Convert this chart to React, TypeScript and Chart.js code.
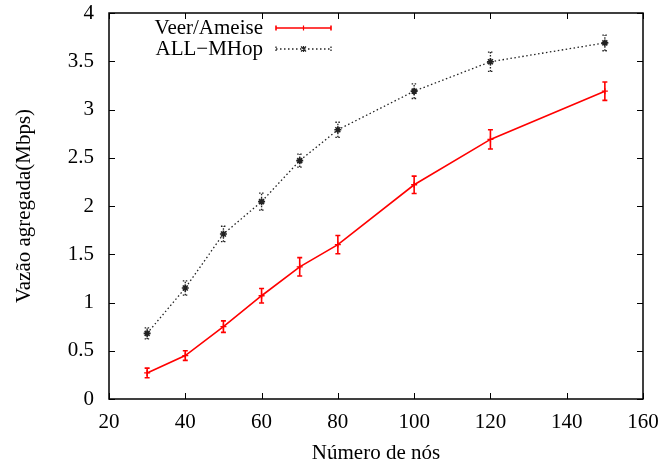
import React, { useEffect, useRef } from "react";
import { Chart, registerables } from "chart.js";

Chart.register(...registerables);

const nodes = [30, 40, 50, 60, 70, 80, 100, 120, 150];
const veerValues = [0.27, 0.45, 0.75, 1.07, 1.37, 1.6, 2.22, 2.69, 3.19];
const veerErrors = [0.05, 0.05, 0.06, 0.075, 0.095, 0.095, 0.09, 0.1, 0.095];
const mhopValues = [0.68, 1.15, 1.71, 2.045, 2.47, 2.79, 3.19, 3.495, 3.69];
const mhopErrors = [0.057, 0.074, 0.08, 0.088, 0.067, 0.078, 0.076, 0.1, 0.081];
const xTicks = [20, 40, 60, 80, 100, 120, 140, 160];
const yTicks = [0, 0.5, 1, 1.5, 2, 2.5, 3, 3.5, 4];
const seriesLabels = ["Veer/Ameise", "ALL\u2212MHop"];
const xTitle = "Número de nós";
const yTitle = "Vazão agregada(Mbps)";

const FONT = "'Liberation Serif', 'Times New Roman', serif";
const RED = "#ff0000";
const DARK = "#222222";
const DOT = [1.5, 2.5];

const framePlugin = {
  id: "gnuplotFrame",
  beforeDatasetsDraw(chart: any) {
    const ctx = chart.ctx;
    chart.data.datasets.forEach((ds: any, i: number) => {
      const meta = chart.getDatasetMeta(i);
      const ys = chart.scales.y;
      ctx.save();
      ctx.strokeStyle = ds.borderColor;
      ctx.lineWidth = ds.errWidth;
      ctx.setLineDash(ds.errDash || []);
      meta.data.forEach((pt: any, j: number) => {
        const v = ds.data[j].y;
        const e = ds.errors[j];
        const x = pt.x;
        const y1 = ys.getPixelForValue(v - e);
        const y2 = ys.getPixelForValue(v + e);
        ctx.beginPath();
        ctx.moveTo(x, y1);
        ctx.lineTo(x, y2);
        ctx.moveTo(x - 2.5, y1);
        ctx.lineTo(x + 2.5, y1);
        ctx.moveTo(x - 2.5, y2);
        ctx.lineTo(x + 2.5, y2);
        ctx.stroke();
      });
      ctx.restore();
    });
  },
  afterDraw(chart: any) {
    const ctx = chart.ctx;
    const { left, right, top, bottom } = chart.chartArea;
    const xs = chart.scales.x;
    const ys = chart.scales.y;
    ctx.save();
    ctx.strokeStyle = "#000";
    ctx.lineWidth = 1.5;
    ctx.setLineDash([]);
    ctx.strokeRect(left, top, right - left, bottom - top);
    ctx.lineWidth = 1;
    ctx.beginPath();
    xTicks.forEach((t) => {
      const x = Math.round(xs.getPixelForValue(t)) + 0.5;
      ctx.moveTo(x, bottom);
      ctx.lineTo(x, bottom - 6);
      ctx.moveTo(x, top);
      ctx.lineTo(x, top + 6);
    });
    yTicks.forEach((t) => {
      const y = Math.round(ys.getPixelForValue(t)) + 0.5;
      ctx.moveTo(left, y);
      ctx.lineTo(left + 6, y);
      ctx.moveTo(right, y);
      ctx.lineTo(right - 6, y);
    });
    ctx.stroke();

    // legend
    ctx.font = "21px " + FONT;
    ctx.fillStyle = "#000";
    ctx.textAlign = "right";
    ctx.textBaseline = "middle";
    const rows = [28, 49];
    const x0 = 276;
    const x1 = 331;
    chart.data.datasets.forEach((ds: any, i: number) => {
      const y = rows[i];
      ctx.fillText(seriesLabels[i], 263, y);
      ctx.save();
      ctx.strokeStyle = ds.borderColor;
      ctx.lineWidth = ds.borderWidth;
      ctx.setLineDash(ds.borderDash || []);
      ctx.beginPath();
      ctx.moveTo(x0, y);
      ctx.lineTo(x1, y);
      ctx.stroke();
      ctx.lineWidth = ds.errWidth;
      ctx.setLineDash(ds.errDash || []);
      ctx.beginPath();
      ctx.moveTo(x0, y - 2.5);
      ctx.lineTo(x0, y + 2.5);
      ctx.moveTo(x1, y - 2.5);
      ctx.lineTo(x1, y + 2.5);
      ctx.stroke();
      ctx.setLineDash([]);
      ctx.lineWidth = 1.2;
      const cx = (x0 + x1) / 2;
      ctx.beginPath();
      if (i === 0) {
        ctx.moveTo(cx, y - 2.5);
        ctx.lineTo(cx, y + 2.5);
      } else {
        ctx.moveTo(cx - 2.5, y - 2.5);
        ctx.lineTo(cx + 2.5, y + 2.5);
        ctx.moveTo(cx + 2.5, y - 2.5);
        ctx.lineTo(cx - 2.5, y + 2.5);
        ctx.moveTo(cx, y - 3);
        ctx.lineTo(cx, y + 3);
      }
      ctx.stroke();
      ctx.restore();
    });
    ctx.restore();
  },
};

export default function App() {
  const ref = useRef<HTMLCanvasElement | null>(null);
  useEffect(() => {
    if (!ref.current) return;
    const chart = new Chart(ref.current, {
      type: "scatter",
      data: {
        datasets: [
          {
            label: seriesLabels[0],
            data: nodes.map((n, i) => ({ x: n, y: veerValues[i] })),
            errors: veerErrors,
            errWidth: 1.6,
            showLine: true,
            borderColor: RED,
            backgroundColor: RED,
            borderWidth: 1.6,
            pointStyle: "cross",
            pointRadius: 3,
            pointBorderWidth: 1.3,
          } as any,
          {
            label: seriesLabels[1],
            data: nodes.map((n, i) => ({ x: n, y: mhopValues[i] })),
            errors: mhopErrors,
            errWidth: 1.3,
            errDash: [1.5, 1.5],
            showLine: true,
            borderColor: DARK,
            backgroundColor: DARK,
            borderWidth: 1.3,
            borderDash: DOT,
            pointStyle: "star",
            pointRadius: 3.5,
            pointBorderWidth: 1.6,
          } as any,
        ],
      },
      options: {
        animation: false,
        responsive: true,
        maintainAspectRatio: false,
        layout: { padding: { top: 13, right: 20, left: 0, bottom: 0 } },
        plugins: { legend: { display: false }, tooltip: { enabled: false } },
        scales: {
          x: {
            type: "linear",
            min: 20,
            max: 160,
            afterBuildTicks: (s: any) => {
              s.ticks = xTicks.map((v) => ({ value: v }));
            },
            afterFit: (s: any) => {
              s.height = 67;
              s.paddingLeft = 0;
              s.paddingRight = 0;
            },
            grid: { display: false, drawTicks: false },
            border: { display: false },
            ticks: {
              color: "#000",
              padding: 11,
              maxRotation: 0,
              font: { family: FONT, size: 21 },
            },
            title: {
              display: true,
              text: xTitle,
              color: "#000",
              font: { family: FONT, size: 21 },
              padding: { top: 0, bottom: 0 },
            },
          },
          y: {
            min: 0,
            max: 4,
            afterBuildTicks: (s: any) => {
              s.ticks = yTicks.map((v) => ({ value: v }));
            },
            afterFit: (s: any) => {
              s.width = 109;
              s.paddingTop = 0;
              s.paddingBottom = 0;
            },
            grid: { display: false, drawTicks: false },
            border: { display: false },
            ticks: {
              color: "#000",
              padding: 15,
              font: { family: FONT, size: 21 },
              callback: (v: any) => String(v),
            },
            title: {
              display: true,
              text: yTitle,
              color: "#000",
              font: { family: FONT, size: 21 },
              padding: { top: 12, bottom: 0 },
            },
          },
        },
      } as any,
      plugins: [framePlugin],
    });
    return () => chart.destroy();
  }, []);
  return (
    <div style={{ position: "absolute", left: 0, top: 0, width: 663, height: 466, background: "#fff" }}>
      <canvas ref={ref} />
    </div>
  );
}
